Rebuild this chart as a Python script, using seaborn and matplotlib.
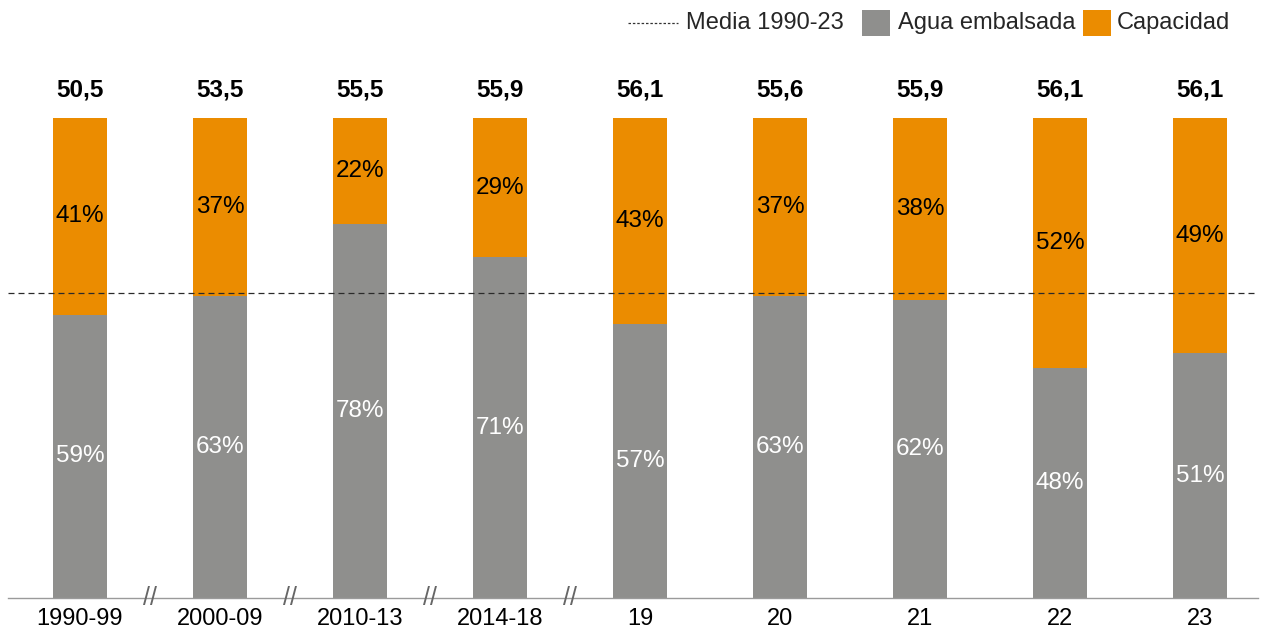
import matplotlib
matplotlib.use("Agg")
import matplotlib.pyplot as plt
from matplotlib.lines import Line2D
from matplotlib.patches import Rectangle
import seaborn as sns
import pandas as pd

periodos = ["1990-99", "2000-09", "2010-13", "2014-18", "19", "20", "21", "22", "23"]
agua_embalsada = [59, 63, 78, 71, 57, 63, 62, 48, 51]
capacidad_libre = [41, 37, 22, 29, 43, 37, 38, 52, 49]
capacidad_total = ["50,5", "53,5", "55,5", "55,9", "56,1", "55,6", "55,9", "56,1", "56,1"]
media_1990_23 = 63.5
cortes = [0.5, 1.5, 2.5, 3.5]

GRIS = "#8f8f8d"
NARANJA = "#eb8c00"

sns.set_theme(style="white")
plt.rcParams["font.family"] = ["Liberation Sans", "DejaVu Sans"]

df = pd.DataFrame({
    "periodo": periodos,
    "agua": agua_embalsada,
    "libre": capacidad_libre,
})
df["total"] = df["agua"] + df["libre"]

W, H = 1261, 629
fig = plt.figure(figsize=(W / 100, H / 100), dpi=100)
ax = fig.add_axes([8 / W, (H - 598) / H, (1258 - 8) / W, (598 - 118) / H])

bw = 54 / 140
sns.barplot(data=df, x="periodo", y="total", order=periodos, color=NARANJA,
            width=bw, saturation=1, linewidth=0, ax=ax)
sns.barplot(data=df, x="periodo", y="agua", order=periodos, color=GRIS,
            width=bw, saturation=1, linewidth=0, ax=ax)

ax.set_xlim(-0.514, 8.414)
ax.set_ylim(0, 100)
ax.axhline(media_1990_23, color="#2a2a2a", lw=0.9, ls=(0, (4.8, 3.2)), zorder=5)

for i, (a, l, t) in enumerate(zip(agua_embalsada, capacidad_libre, capacidad_total)):
    ax.text(i, a / 2, f"{a}%", ha="center", va="center", color="white", fontsize=17.5)
    ax.text(i, a + l / 2, f"{l}%", ha="center", va="center", color="black", fontsize=17.5)
    ax.annotate(t, (i, a + l), xytext=(0, 20), textcoords="offset points",
                ha="center", va="center", fontsize=17.5, fontweight="bold",
                color="black", annotation_clip=False)

for c in cortes:
    ax.text(c, 0, "//", ha="center", va="center", fontsize=18, color="#666666",
            clip_on=False, zorder=6)

for s in ["left", "right", "top"]:
    ax.spines[s].set_visible(False)
ax.spines["bottom"].set_color("#9a9a9a")
ax.spines["bottom"].set_linewidth(1.0)
ax.set_yticks([])
ax.set_xlabel("")
ax.set_ylabel("")
ax.tick_params(axis="x", length=0, labelsize=17, labelcolor="black", pad=7)

# leyenda superior
def fx(px):
    return px / W

def fy(py):
    return (H - py) / H

ly = 23
fig.add_artist(Line2D([fx(628), fx(678)], [fy(ly), fy(ly)], color="#333333",
                      lw=0.9, ls=(0, (2, 1.5))))
fig.text(fx(686), fy(ly), "Media 1990-23", ha="left", va="center", fontsize=17)
fig.add_artist(Rectangle((fx(862), fy(ly + 13)), fx(28), 26 / H, color=GRIS, lw=0))
fig.text(fx(898), fy(ly), "Agua embalsada", ha="left", va="center", fontsize=17)
fig.add_artist(Rectangle((fx(1083), fy(ly + 13)), fx(28), 26 / H, color=NARANJA, lw=0))
fig.text(fx(1117), fy(ly), "Capacidad", ha="left", va="center", fontsize=17)

fig.savefig("out.png", dpi=100, facecolor="white")
